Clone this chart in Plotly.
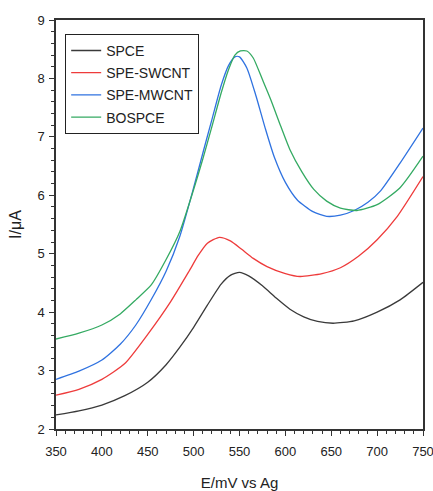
import plotly.graph_objects as go

# ---- data (E in mV vs Ag, I in µA) ----
spce_x = [350, 375, 400, 425, 450, 470, 485, 500, 515, 530, 540, 550, 560, 575, 590, 605, 620, 635, 652, 675, 700, 725, 750]
spce_y = [2.24, 2.31, 2.41, 2.57, 2.80, 3.10, 3.40, 3.74, 4.12, 4.48, 4.63, 4.68, 4.62, 4.45, 4.24, 4.05, 3.92, 3.84, 3.81, 3.85, 4.00, 4.21, 4.51]

swcnt_x = [350, 375, 400, 425, 450, 475, 495, 505, 515, 528, 540, 552, 565, 580, 600, 616, 640, 660, 680, 700, 722, 750]
swcnt_y = [2.58, 2.68, 2.85, 3.12, 3.62, 4.18, 4.70, 4.97, 5.18, 5.28, 5.22, 5.08, 4.92, 4.78, 4.66, 4.61, 4.66, 4.76, 4.96, 5.24, 5.64, 6.32]

mwcnt_x = [350, 375, 400, 420, 437, 454, 470, 485, 500, 510, 520, 530, 538, 545, 550, 558, 568, 578, 588, 600, 613, 630, 645, 660, 675, 690, 704, 725, 750]
mwcnt_y = [2.85, 2.99, 3.18, 3.45, 3.78, 4.22, 4.70, 5.30, 6.13, 6.72, 7.30, 7.88, 8.22, 8.37, 8.37, 8.18, 7.70, 7.15, 6.65, 6.22, 5.92, 5.72, 5.64, 5.66, 5.74, 5.88, 6.08, 6.55, 7.15]

bospce_x = [350, 375, 400, 420, 437, 454, 470, 485, 500, 510, 520, 530, 538, 545, 551, 558, 565, 575, 584, 595, 605, 618, 631, 645, 660, 678, 700, 725, 750]
bospce_y = [3.54, 3.64, 3.78, 3.97, 4.21, 4.47, 4.90, 5.38, 6.10, 6.62, 7.18, 7.75, 8.15, 8.40, 8.47, 8.47, 8.35, 7.98, 7.64, 7.18, 6.78, 6.40, 6.10, 5.90, 5.78, 5.74, 5.84, 6.13, 6.67]

series_names = ["SPCE", "SPE-SWCNT", "SPE-MWCNT", "BOSPCE"]
series_colors = ["#3a3a3a", "#ee3b3b", "#2f72e0", "#34aa62"]
series_x = [spce_x, swcnt_x, mwcnt_x, bospce_x]
series_y = [spce_y, swcnt_y, mwcnt_y, bospce_y]

x_title = "E/mV vs Ag"
y_title = "I/μA"

FONT = "Arial, 'Liberation Sans', sans-serif"

fig = go.Figure()
for name, color, xs, ys in zip(series_names, series_colors, series_x, series_y):
    fig.add_trace(go.Scatter(
        x=xs, y=ys, mode="lines", name=name, legendgroup=name,
        line=dict(color=color, width=1.3, shape="spline", smoothing=0.6),
    ))

axis_common = dict(
    showline=True, linecolor="#333333", linewidth=1.5, mirror=True,
    ticks="outside", ticklen=5, tickwidth=1, tickcolor="#333333",
    showgrid=False, zeroline=False, automargin=False,
    ticklabeloverflow="allow",
    tickfont=dict(family=FONT, size=13, color="#222222"),
    minor=dict(ticks="outside", ticklen=3, tickcolor="#333333", showgrid=False),
)

fig.update_xaxes(
    range=[350, 750], dtick=50, tick0=350, ticklabelstandoff=5,
    title=dict(text=x_title, font=dict(family=FONT, size=15, color="#222222"), standoff=20),
    **axis_common,
)
fig.update_yaxes(
    range=[2, 9], dtick=1, tick0=2, ticklabelstandoff=2,
    title=dict(text=y_title, font=dict(family=FONT, size=16, color="#222222"), standoff=12),
    **axis_common,
)

fig.update_layout(
    width=433, height=491,
    margin=dict(l=56, r=10, t=20, b=62),
    plot_bgcolor="white", paper_bgcolor="white",
    font=dict(family=FONT, color="#222222"),
    legend=dict(
        x=0.025, y=0.966, xanchor="left", yanchor="top",
        bordercolor="#222222", borderwidth=1, bgcolor="white",
        font=dict(family=FONT, size=14, color="#222222"),
        tracegroupgap=1,
    ),
)

fig.write_html("out.html")
